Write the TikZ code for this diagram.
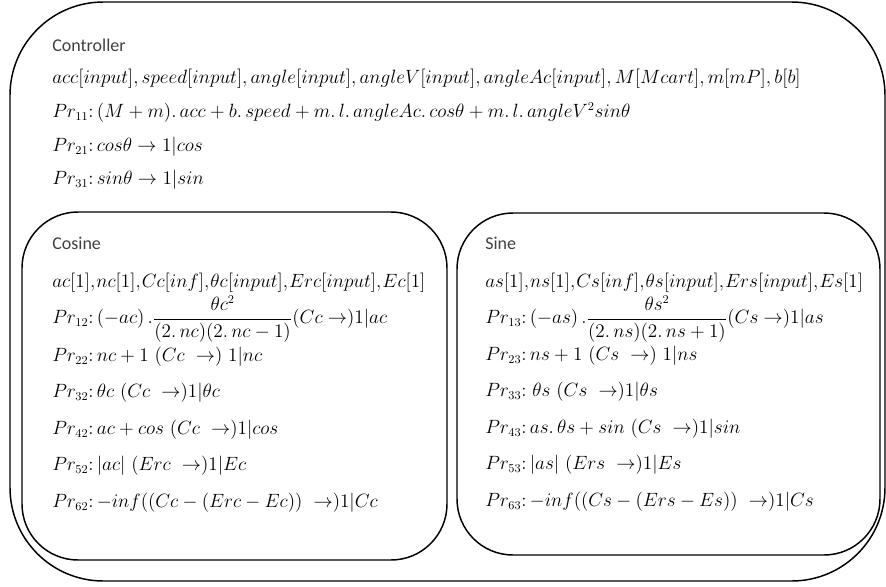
\documentclass[tikz,border=0pt]{standalone}
\usepackage{fontspec}
\setsansfont{Carlito}
\usetikzlibrary{positioning}
\definecolor{BoxInk}{HTML}{000000}
\definecolor{TitleInk}{HTML}{404040}
\newcommand{\vsep}{{,}\mkern1mu}
\tikzset{
  membrane/.style={draw=BoxInk, line width=1.1pt},
  outerwall/.style={membrane, rounded corners=70pt},
  innerwall/.style={membrane, rounded corners=42pt},
  title/.style={anchor=west, inner sep=0pt, font=\sffamily\fontsize{13.5}{15}\selectfont, text=TitleInk},
  rule/.style={anchor=west, inner sep=0pt, font=\fontsize{13.3}{15}\selectfont},
}

\begin{document}
\begin{tikzpicture}[x=0.75pt,y=-0.75pt]
  \useasboundingbox (0,0) rectangle (886,586);
  % Membranes
  \draw[outerwall] (10,2) rectangle (885,581);
  \draw[innerwall] (22,212) rectangle (447,560);
  \draw[innerwall] (457,213) rectangle (880,555);
  % Controller membrane
  \node[title] (ctrl) at (52,45) {Controller};
  \node[rule] (ctrlvars) at (52,79)
    {$acc[input], speed[input], angle[input], angleV[input], angleAc[input], M[Mcart], m[mP], b[b]$};
  \node[rule] (pr11) at (52,113)
    {$Pr_{11}{:}\,(M+m).\,acc+b.\,speed+m.\,l.\,angleAc.\,cos\theta+m.\,l.\,angleV^2sin\theta$};
  \node[rule] (pr21) at (52,147) {$Pr_{21}{:}\,cos\theta\to1|cos$};
  \node[rule] (pr31) at (52,180) {$Pr_{31}{:}\,sin\theta\to1|sin$};
  % Cosine membrane
  \node[title] (cos) at (52,243) {Cosine};
  \node[rule] (cosvars) at (52,283)
    {$ac[1]\vsep nc[1]\vsep Cc[inf]\vsep \theta c[input]\vsep Erc[input]\vsep Ec[1]$};
  \node[rule] (pr12) at (52,319)
    {$Pr_{12}{:}\,(-ac)\,.\displaystyle\frac{\theta c^2}{(2.\,nc)(2.\,nc-1)}(Cc\to)1|ac$};
  \node[rule] (pr22) at (52,357) {$Pr_{22}{:}\,nc+1\ (Cc\ \to)\ 1|nc$};
  \node[rule] (pr32) at (52,393) {$Pr_{32}{:}\,\theta c\ (Cc\ \to)1|\theta c$};
  \node[rule] (pr42) at (52,430) {$Pr_{42}{:}\,ac+cos\ (Cc\ \to)1|cos$};
  \node[rule] (pr52) at (52,466) {$Pr_{52}{:}\,|ac|\ (Erc\ \to)1|Ec$};
  \node[rule] (pr62) at (52,503) {$Pr_{62}{:}\,{-}inf((Cc-(Erc-Ec))\ \to)1|Cc$};
  % Sine membrane
  \node[title] (sin) at (485,243) {Sine};
  \node[rule] (sinvars) at (485,283)
    {$as[1]\vsep ns[1]\vsep Cs[inf]\vsep \theta s[input]\vsep Ers[input]\vsep Es[1]$};
  \node[rule] (pr13) at (485,319)
    {$Pr_{13}{:}\,(-as)\,.\displaystyle\frac{\theta s^2}{(2.\,ns)(2.\,ns+1)}(Cs\to)1|as$};
  \node[rule] (pr23) at (485,356) {$Pr_{23}{:}\,ns+1\ (Cs\ \to)\ 1|ns$};
  \node[rule] (pr33) at (485,392) {$Pr_{33}{:}\ \theta s\ (Cs\ \to)1|\theta s$};
  \node[rule] (pr43) at (485,429) {$Pr_{43}{:}\,as.\,\theta s+sin\ (Cs\ \to)1|sin$};
  \node[rule] (pr53) at (485,465) {$Pr_{53}{:}\,|as|\ (Ers\ \to)1|Es$};
  \node[rule] (pr63) at (485,502) {$Pr_{63}{:}\,{-}inf((Cs-(Ers-Es))\ \to)1|Cs$};
\end{tikzpicture}
\end{document}
